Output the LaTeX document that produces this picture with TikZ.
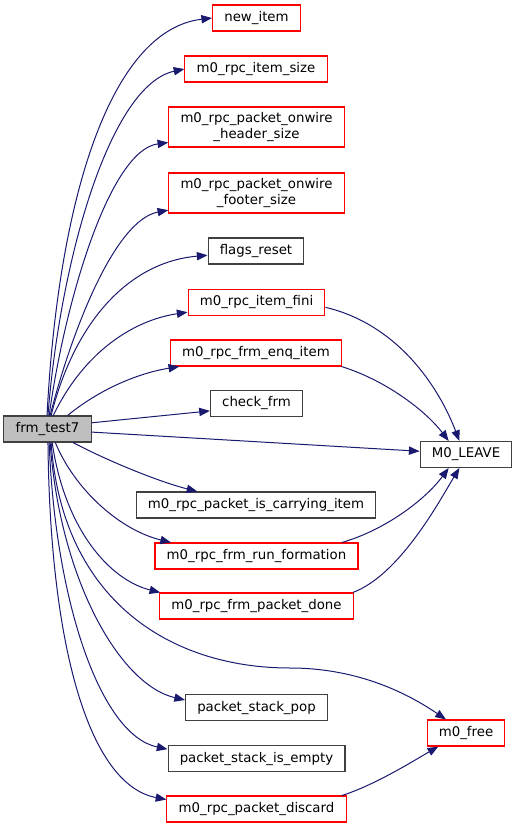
\documentclass[tikz,border=0pt]{standalone}
\usepackage{fontspec}
\setmainfont{DejaVu Sans}
\usetikzlibrary{arrows.meta}
\definecolor{edgeblue}{HTML}{191970}
\definecolor{rootgray}{HTML}{BFBFBF}

\begin{document}
\begin{tikzpicture}[x=0.75pt, y=-0.75pt,
	fn/.style={draw=black!75, rectangle, line width=0.8pt, inner xsep=8.8pt, inner ysep=2pt,
		minimum height=19.5pt, align=center, font=\fontsize{10}{11.5}\selectfont},
	fnred/.style={fn, draw=red},
	call/.style={draw=edgeblue, line width=0.75pt, -{Triangle[length=8pt,width=6.2pt]}}]

\useasboundingbox (0,0) rectangle (516,828);

% Funcion raiz
\node[fn, fill=rootgray] (test7) at (47.5,429) {frm\_test7};

% Llamadas directas
\node[fnred] (newitem)  at (256.5,18)  {new\_item};
\node[fnred] (itemsize) at (256,69)    {m0\_rpc\_item\_size};
\node[fnred, inner ysep=4.25pt] (header) at (256.5,127) {m0\_rpc\_packet\_onwire\\\_header\_size};
\node[fnred, inner ysep=4.25pt] (footer) at (256.5,193) {m0\_rpc\_packet\_onwire\\\_footer\_size};
\node[fn]    (flags)    at (256,251)   {flags\_reset};
\node[fnred] (fini)     at (256.5,302.5) {m0\_rpc\_item\_fini};
\node[fnred] (enq)      at (256,353)   {m0\_rpc\_frm\_enq\_item};
\node[fn]    (check)    at (256.5,403.5) {check\_frm};
\node[fn]    (carrying) at (256,505)   {m0\_rpc\_packet\_is\_carrying\_item};
\node[fnred] (run)      at (256.5,556) {m0\_rpc\_frm\_run\_formation};
\node[fnred] (pktdone)  at (256.5,606) {m0\_rpc\_frm\_packet\_done};
\node[fn]    (pop)      at (256.5,707.5) {packet\_stack\_pop};
\node[fn]    (empty)    at (256.5,758.5) {packet\_stack\_is\_empty};
\node[fnred] (discard)  at (256.5,809) {m0\_rpc\_packet\_discard};

% Segundo nivel
\node[fn]    (leave)    at (466,454.5) {M0\_LEAVE};
\node[fnred] (free)     at (466,733)   {m0\_free};

% Aristas hacia arriba
\draw[call] (test7.92) .. controls (58,200) and (110,30) .. (newitem.west);
\draw[call] (test7.88) .. controls (60,260) and (110,85) .. (itemsize.west);
\draw[call] (test7.83) .. controls (65,300) and (110,150) .. (header.190.5);
\draw[call] (test7.79) .. controls (72,330) and (115,220) .. (footer.191);
\draw[call] (test7.75) .. controls (75,320) and (130,262) .. (flags.185);
\draw[call] (test7.67) .. controls (85,350) and (135,320) .. (fini.188);
\draw[call] (test7.34) .. controls (105,385) and (145,372) .. (enq.190);
\draw[call] (test7.8) -- (check.189);
\draw[call] (test7.-4) -- (leave.176);

% Aristas hacia abajo
\draw[call] (test7.-28) .. controls (110,462) and (160,482) .. (carrying.167);
\draw[call] (test7.-60) .. controls (75,490) and (120,530) .. (run.171.7);
\draw[call] (test7.-71) .. controls (65,530) and (110,580) .. (pktdone.172);
\draw[call] (test7.-75) .. controls (62,600) and (170,668) .. (290,668)
	.. controls (360,668) and (410,695) .. (free.146);
\draw[call] (test7.-79) .. controls (60,580) and (120,685) .. (pop.174);
\draw[call] (test7.-83) .. controls (55,600) and (100,735) .. (empty.174.5);
\draw[call] (test7.-88) .. controls (50,650) and (90,785) .. (discard.174);

% Hacia M0_LEAVE y m0_free
\draw[call] (fini.-4.7) .. controls (400,325) and (440,390) .. (leave.116);
\draw[call] (enq.-9) .. controls (385,380) and (425,410) .. (leave.142);
\draw[call] (run.9) .. controls (385,530) and (425,500) .. (leave.218);
\draw[call] (pktdone.8) .. controls (400,575) and (440,500) .. (leave.244);
\draw[call] (discard.9.7) .. controls (375,785) and (415,760) .. (free.206.6);
\end{tikzpicture}
\end{document}
